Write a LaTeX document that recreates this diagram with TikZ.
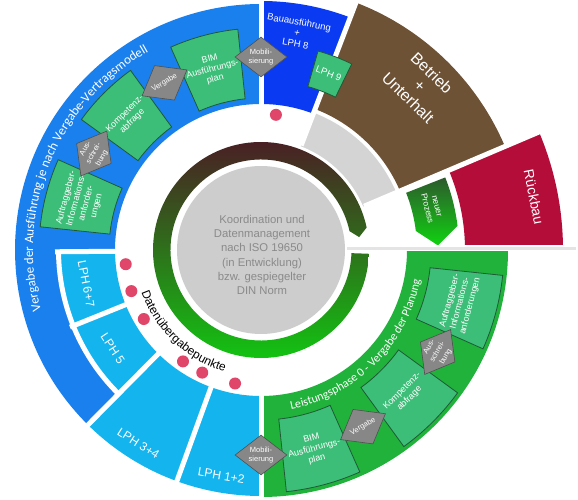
\documentclass[tikz,border=0pt]{standalone}
\usepackage{fontspec}
\setmainfont{Liberation Sans}
\newfontfamily\calibfont{Carlito}
\usetikzlibrary{shapes.geometric,decorations.text}
\definecolor{cblue}{HTML}{1A80EE}
\definecolor{cdblue}{HTML}{0A3BF2}
\definecolor{ccyan}{HTML}{14B4EF}
\definecolor{cgreen}{HTML}{20B23A}
\definecolor{ctile}{HTML}{3DBE78}
\definecolor{ctileb}{HTML}{1E5A36}
\definecolor{cbrown}{HTML}{6E5236}
\definecolor{crueck}{HTML}{B50D3A}
\definecolor{cgraysec}{HTML}{D4D4D4}
\definecolor{cdisk}{HTML}{CDCDCD}
\definecolor{cdia}{HTML}{878787}
\definecolor{cdiab}{HTML}{505050}
\definecolor{cdot}{HTML}{E0456A}
\definecolor{cdisktext}{HTML}{8A8A8A}
\definecolor{cline}{HTML}{E4E4E4}
\definecolor{cringtop}{HTML}{4A1E24}
\definecolor{cringmid}{HTML}{2E6424}
\definecolor{cringbot}{HTML}{12C412}
\definecolor{cnptop}{HTML}{2D5A2D}
\definecolor{cnpbot}{HTML}{10D210}
\newcommand\annsec[4]{(#1:#3) arc[start angle=#1,end angle=#2,radius=#3] -- (#2:#4) arc[start angle=#2,end angle=#1,radius=#4] -- cycle}
\newcommand\vfont{\calibfont\fontsize{13}{13}\selectfont}
\newcommand\lfont{\calibfont\fontsize{12}{12}\selectfont}
\newcommand\dfont{\fontsize{12}{12}\selectfont}
\tikzset{
  gapline/.style={draw=white, line width=5pt},
  tile/.style={fill=ctile, draw=ctileb, line width=0.8pt},
  tiletext/.style={text=white, align=center, font=\fontsize{9}{10.5}\selectfont, inner sep=0pt},
  dia/.style={diamond, draw=cdiab, fill=cdia, line width=0.6pt, minimum width=52pt, minimum height=40pt, inner sep=0pt},
  diatext/.style={text=white, align=center, font=\fontsize{7.5}{9.5}\selectfont, inner sep=0pt},
  lphtext/.style={text=white, font=\fontsize{12}{14}\selectfont, inner sep=0pt},
  dotmark/.style={circle, fill=cdot, minimum size=12pt, inner sep=0pt},
}
\begin{document}
\begin{tikzpicture}[x=1pt,y=1pt]
\useasboundingbox (0,0) rectangle (578,500);
\fill[white] (0,0) rectangle (578,500);
\begin{scope}[shift={(261,250)}]
% gray wedge behind
\fill[cgraysec] (0,0) -- (23:147) arc[start angle=23,end angle=69,radius=147] -- cycle;
\fill[white] (0,0) circle[radius=111];
% outer sectors
\fill[cblue] (90:146) arc[start angle=90,end angle=180.5,radius=146] -- (180.5:202.5) arc[start angle=180.5,end angle=225.3,radius=202.5] -- (225.3:246) arc[start angle=225.3,end angle=90,radius=246] -- cycle;
\fill[cdblue] \annsec{69}{90}{146}{249};
\fill[cgreen] \annsec{-90}{0}{146}{247};
\fill[ccyan] \annsec{250}{270}{146}{246};
\fill[ccyan] \annsec{225.3}{250}{146}{246};
\fill[ccyan] \annsec{202}{225.3}{146}{202.5};
\fill[ccyan] \annsec{180.5}{202}{146}{202.5};
\fill[cbrown] \annsec{23}{69}{151}{265};
\fill[crueck] \annsec{0}{23}{204}{302};
\shade[top color=cnptop, bottom color=cnpbot] (21.5:156) -- (21.5:198) arc[start angle=21.5,end angle=7,radius=198] -- (1.5:177) -- (7:156) arc[start angle=7,end angle=21.5,radius=156] -- cycle;
% gaps
\draw[gapline] (90:140) -- (90:262);
\draw[gapline] (-90:140) -- (-90:262);
\draw[gapline] (69:112) -- (69:275);
\draw[gapline] (23:112) -- (23:315);
\draw[gapline] (250:140) -- (250:258);
\draw[gapline] (225.3:140) -- (225.3:258);
\draw[gapline] (202:140) -- (202:206);
\draw[gapline] (180.5:140) -- (180.5:206);
\draw[gapline] (180.5:202.5) arc[start angle=180.5,end angle=225.3,radius=202.5];
\draw[draw=white, line width=6pt] (86,1.5) -- (318,1.5);
\draw[draw=cline, line width=2.5pt] (86,1.5) -- (315,1.5);
% ring and core
\shade[top color=cringtop, middle color=cringmid, bottom color=cringbot]
  (-2:108) arc[start angle=-2,end angle=-348,radius=108] -- (-352.5:99) -- (-348:90.5) arc[start angle=-348,end angle=-2,radius=90.5] -- cycle;
\fill[cdisk] (0,0) circle[radius=84];
\node[align=center, text=cdisktext, font=\fontsize{11.3}{14.2}\selectfont] (core) at (1,-5) {Koordination und\\Datenmanagement\\nach ISO 19650\\(in Entwicklung)\\bzw. gespiegelter\\DIN Norm};
% tiles blue
\draw[tile] \annsec{96}{114}{152}{222};
\draw[tile] \annsec{126}{144}{152}{222};
\draw[tile] \annsec{156}{174}{152}{222};
\node[tiletext, rotate=15] (tb1) at (105:187) {BIM\\Ausführungs-\\plan};
\node[tiletext, rotate=45] (tb2) at (135:187) {Kompetenz-\\abfrage};
\node[tiletext, rotate=75] (tb3) at (165:186) {Auftraggeber-\\Informations-\\anforder-\\ungen};
% tiles green
\draw[tile] \annsec{-24}{-6}{170}{243};
\draw[tile] \annsec{-54}{-36}{170}{243};
\draw[tile] \annsec{-84}{-66}{170}{243};
\node[tiletext, rotate=75] (tg1) at (-15:206) {Auftraggeber-\\Informations-\\anforderungen};
\node[tiletext, rotate=45] (tg2) at (-45:205) {Kompetenz-\\abfrage};
\node[tiletext, rotate=15] (tg3) at (-75:206) {BIM\\Ausführungs-\\plan};
% LPH 9
\draw[tile] \annsec{64}{74}{170}{207};
\node[text=white, font=\fontsize{9.5}{11}\selectfont, rotate=-21, inner sep=0pt] (lph9) at (69:189) {LPH 9};
% diamonds
\node[dia, rotate=60] (db1) at (150:193) {};
\node[diatext, rotate=60] (db1t) at (db1) {Aus-\\schrei-\\bung};
\node[dia, rotate=30] (db2) at (120:193) {};
\node[diatext, rotate=30] (db2t) at (db2) {Vergabe};
\node[dia] (db3) at (90:193) {};
\node[diatext] (db3t) at (db3) {Mobili-\\sierung};
\node[dia, rotate=60] (dg1) at (-30:204) {};
\node[diatext, rotate=60] (dg1t) at (dg1) {Aus-\\schrei-\\bung};
\node[dia, rotate=30] (dg2) at (-60:204) {};
\node[diatext, rotate=30] (dg2t) at (dg2) {Vergabe};
\node[dia] (dg3) at (-90:205) {};
\node[diatext] (dg3t) at (dg3) {Mobili-\\sierung};
% labels
\node[lphtext, rotate=-10] (l12) at (260:229) {LPH 1+2};
\node[lphtext, rotate=-32.5] (l34) at (237.6:229) {LPH 3+4};
\node[lphtext, rotate=-56.5] (l5) at (213.6:178) {LPH 5};
\node[lphtext, rotate=-79] (l67) at (191:178) {LPH 6+7};
\node[text=white, align=center, font=\fontsize{9.5}{11}\selectfont, rotate=-10, inner sep=0pt] (bau) at (80.5:220) {Bauausführung\\+\\LPH 8};
\node[text=white, align=center, font=\fontsize{16}{17}\selectfont, rotate=-44, inner sep=0pt] (betr) at (46:229) {Betrieb\\+\\Unterhalt};
\node[text=white, font=\fontsize{14}{16}\selectfont, rotate=-79, inner sep=0pt] (rueck) at (11:278) {Rückbau};
\node[text=white, align=center, font=\fontsize{8.5}{10}\selectfont, rotate=-76, inner sep=0pt] (neu) at (14:176) {neuer\\Prozess};
% dots
\node[dotmark] (p1) at (83.7:136) {};
\node[dotmark] (p2) at (186:136) {};
\node[dotmark] (p3) at (197.6:136) {};
\node[dotmark] (p4) at (210.5:136) {};
\node[dotmark] (p5) at (235:136) {};
\node[dotmark] (p6) at (244.4:136) {};
\node[dotmark] (p7) at (259:136) {};
% curved texts
\path[decorate, decoration={text along path, text align=center, text color=white,
  text={|\vfont|Vergabe der Ausführung je nach Vergabe-Vertragsmodell}}]
  (227.5:228) arc[start angle=227.5,end angle=87.5,radius=228];
\path[decorate, decoration={text along path, text align=center, text color=white,
  text={|\lfont|Leistungsphase 0 - Vergabe der Planung}}]
  (-115:162) arc[start angle=-115,end angle=25,radius=162];
\path[decorate, decoration={text along path, text align=center, text color=black,
  text={|\dfont|Datenübergabepunkte}}]
  (166.5:127) arc[start angle=166.5,end angle=286.5,radius=127];
\end{scope}
\end{tikzpicture}
\end{document}
